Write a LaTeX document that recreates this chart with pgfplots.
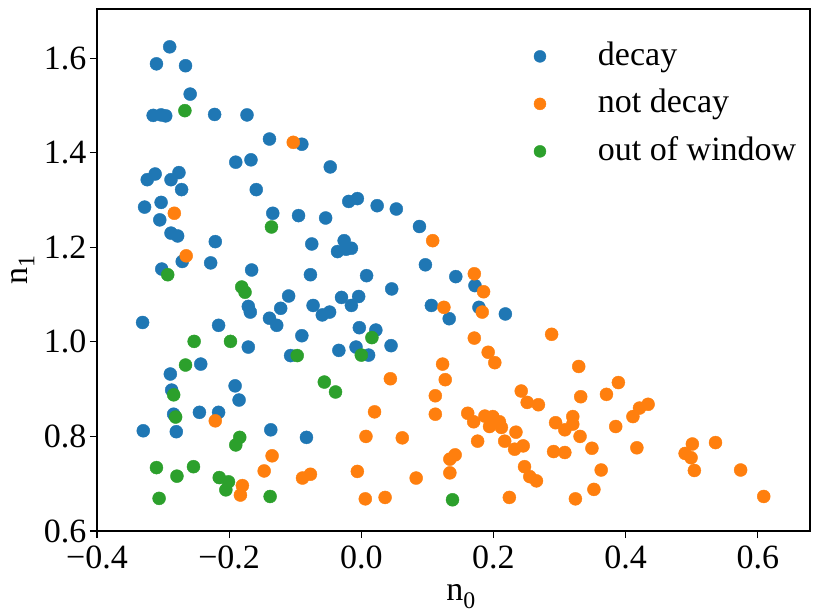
\documentclass[border=0pt]{standalone}
\usepackage{pgfplots}
\pgfplotsset{compat=1.18}
\usepackage{fontspec}
\setmainfont{Liberation Serif}
\definecolor{tabblue}{HTML}{1F77B4}
\definecolor{taborange}{HTML}{FF7F0E}
\definecolor{tabgreen}{HTML}{2CA02C}
\begin{document}
\begin{tikzpicture}
\path[use as bounding box] (-97bp,-81bp) rectangle (716bp,531bp);
\begin{axis}[
  scale only axis, width=713bp, height=522bp,
  at={(0,0)}, anchor=south west,
  xmin=-0.4, xmax=0.679, ymin=0.6, ymax=1.704,
  axis line style={line width=1.2bp},
  every tick/.style={line width=1.2bp, black},
  tick align=outside, tick pos=left, major tick length=7bp,
  xtick={-0.4,-0.2,0,0.2,0.4,0.6},
  xticklabels={−0.4,−0.2,0.0,0.2,0.4,0.6},
  ytick={0.6,0.8,1.0,1.2,1.4,1.6},
  yticklabels={0.6,0.8,1.0,1.2,1.4,1.6},
  tick label style={font=\fontsize{34bp}{40bp}\selectfont},
  xticklabel style={yshift=-4bp},
  xlabel={n\textsubscript{0}}, ylabel={n\textsubscript{1}},
  label style={font=\fontsize{34bp}{40bp}\selectfont},
  xlabel style={at={(axis description cs:0.5105,-0.134)}, anchor=base},
  ylabel style={at={(axis description cs:-0.104,0.5)}, anchor=center},
  legend cell align=left,
  legend image code/.code={\path[draw=none,fill=none] (-7bp,0bp) -- (58bp,0bp); \draw[#1, mark size=6bp] plot coordinates {(0bp,0bp)};},
  legend style={draw=none, fill=none, at={(0.607,0.946)}, anchor=north west,
    font=\fontsize{34bp}{40bp}\selectfont, row sep=13.5bp, column sep=0bp,
    nodes={inner sep=0bp, text height=26bp, text depth=8bp}},
  every axis plot/.append style={only marks, mark=*, mark size=6.5bp},
]
\addplot[tabblue, mark options={draw=none, fill=tabblue}] coordinates {
(-0.290,1.624) (-0.310,1.588) (-0.266,1.584) (-0.259,1.524) (-0.315,1.479)
(-0.303,1.480) (-0.296,1.478) (-0.222,1.481) (-0.173,1.480) (-0.139,1.429)
(-0.090,1.418) (-0.190,1.380) (-0.167,1.385) (-0.047,1.370) (-0.324,1.343)
(-0.312,1.355) (-0.288,1.343) (-0.276,1.358) (-0.272,1.322) (-0.159,1.322)
(-0.328,1.285) (-0.303,1.295) (-0.305,1.258) (-0.134,1.272) (-0.095,1.267)
(-0.054,1.262) (-0.288,1.230) (-0.278,1.224) (-0.221,1.212) (-0.075,1.207)
(-0.036,1.191) (-0.271,1.170) (-0.228,1.167) (-0.302,1.154) (-0.166,1.152)
(-0.077,1.142) (-0.110,1.097) (-0.122,1.071) (-0.171,1.075) (-0.168,1.063)
(-0.073,1.077) (-0.059,1.057) (-0.048,1.063) (-0.331,1.041) (-0.216,1.035)
(-0.139,1.050) (-0.128,1.035) (-0.090,1.013) (-0.034,0.982) (-0.171,0.989)
(-0.107,0.971) (-0.243,0.953) (-0.289,0.932) (-0.287,0.898) (-0.191,0.907)
(-0.185,0.877) (-0.284,0.847) (-0.245,0.851) (-0.216,0.851) (-0.330,0.812)
(-0.280,0.810) (-0.137,0.814) (-0.083,0.798)
(-0.019,1.297) (-0.006,1.303) (0.024,1.288) (0.053,1.281) (0.088,1.244)
(-0.026,1.214) (-0.023,1.196) (-0.015,1.198) (0.097,1.163) (0.008,1.140)
(0.143,1.138) (0.172,1.119) (0.046,1.112) (-0.030,1.094) (-0.004,1.096)
(-0.015,1.077) (0.106,1.077) (0.178,1.073) (0.133,1.049) (0.218,1.059)
(-0.003,1.030) (0.022,1.025) (0.045,0.992) (-0.008,0.989) (0.011,0.972)
};
\addlegendentry{decay}
\addplot[taborange, mark options={draw=none, fill=taborange}] coordinates {
(-0.103,1.422) (-0.283,1.272) (-0.265,1.182) (-0.221,0.833) (-0.135,0.759)
(-0.147,0.727) (-0.089,0.712) (-0.077,0.720) (-0.180,0.696) (-0.183,0.676)
(0.108,1.214) (0.171,1.144) (0.185,1.106) (0.125,1.073) (0.183,1.063)
(0.288,1.016) (0.171,1.008) (0.192,0.978) (0.202,0.956) (0.123,0.953)
(0.127,0.920) (0.044,0.922) (0.112,0.886) (0.112,0.847) (0.020,0.852)
(0.242,0.896) (0.251,0.872) (0.268,0.867) (0.161,0.849) (0.170,0.831)
(0.187,0.843) (0.199,0.842) (0.209,0.831) (0.194,0.821) (0.212,0.819)
(0.176,0.790) (0.217,0.790) (0.234,0.809) (0.232,0.773) (0.245,0.780)
(0.294,0.829) (0.308,0.814) (0.291,0.768) (0.308,0.766) (0.007,0.800)
(0.062,0.797) (0.134,0.752) (0.142,0.761) (0.134,0.723) (0.083,0.712)
(-0.006,0.726) (0.006,0.668) (0.036,0.671) (0.224,0.671) (0.247,0.736)
(0.255,0.715) (0.265,0.706) (0.329,0.948) (0.389,0.914) (0.371,0.889)
(0.332,0.884) (0.434,0.868) (0.421,0.860) (0.411,0.842) (0.320,0.842)
(0.320,0.826) (0.331,0.800) (0.385,0.821) (0.349,0.775) (0.417,0.776)
(0.363,0.729) (0.352,0.688) (0.324,0.668) (0.501,0.784) (0.490,0.764)
(0.499,0.755) (0.504,0.728) (0.536,0.787) (0.574,0.729) (0.609,0.673)
};
\addlegendentry{not decay}
\addplot[tabgreen, mark options={draw=none, fill=tabgreen}] coordinates {
(-0.267,1.489) (-0.136,1.243) (-0.293,1.142) (-0.181,1.116) (-0.176,1.105)
(-0.253,1.001) (-0.198,1.001) (-0.097,0.971) (-0.266,0.951) (-0.056,0.915)
(-0.039,0.894) (-0.284,0.888) (-0.281,0.841) (-0.184,0.798) (-0.190,0.782)
(-0.310,0.734) (-0.254,0.736) (-0.279,0.716) (-0.215,0.713) (-0.201,0.704)
(-0.205,0.687) (-0.306,0.669) (-0.138,0.673) (0.016,1.009) (0.000,0.972)
(0.138,0.666)
};
\addlegendentry{out of window}
\end{axis}
\end{tikzpicture}
\end{document}
